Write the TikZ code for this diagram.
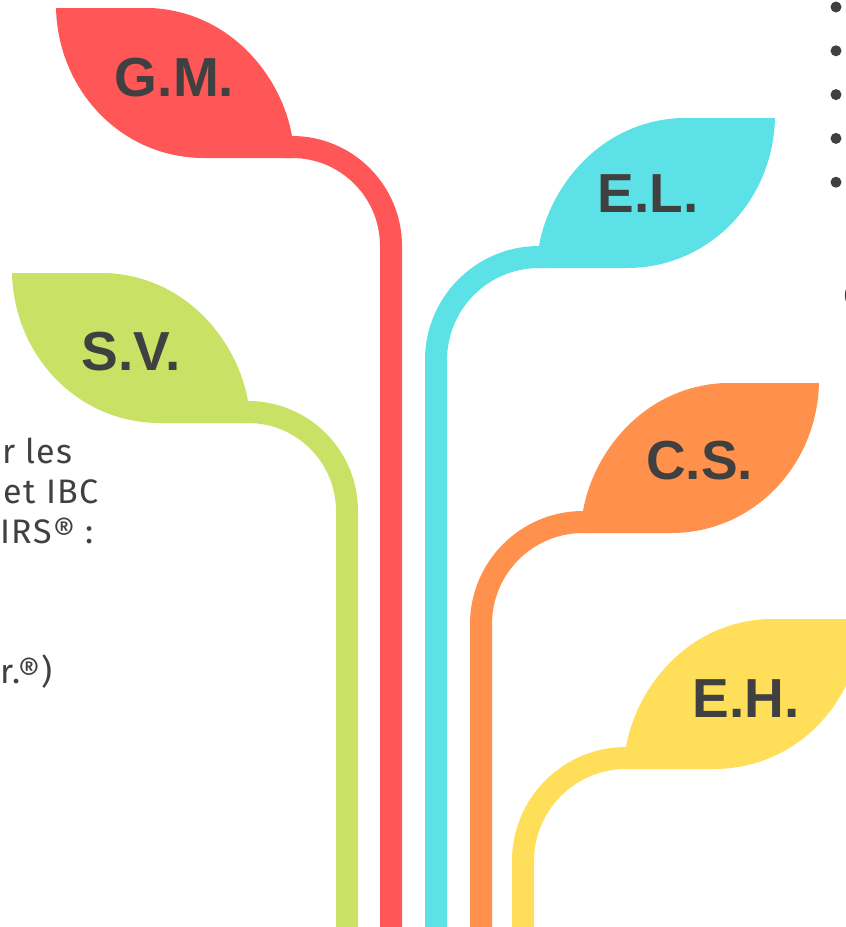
\documentclass[tikz,border=0pt]{standalone}
\usepackage{fontspec}
\setmainfont{Liberation Sans}
\newfontfamily\bodyfont[LetterSpace=4]{Fira Sans}
\definecolor{leafred}{HTML}{FF5757}
\definecolor{leafcyan}{HTML}{5CE1E6}
\definecolor{leaforange}{HTML}{FF914D}
\definecolor{leafyellow}{HTML}{FFDE59}
\definecolor{leafgreen}{HTML}{C9E265}
\definecolor{ink}{HTML}{404040}
\newcommand\regmark{®}
\begin{document}
\begin{tikzpicture}[x=1pt,y=-1pt,
  stemline/.style={line width=22pt, line cap=butt},
  leaflabel/.style={font=\fontsize{55}{55}\selectfont\bfseries, text=ink, inner sep=0pt, anchor=base},
  sidetext/.style={font=\bodyfont\fontsize{34}{40}\selectfont, text=ink, inner sep=0pt, anchor=base east},
  leafR/.pic={\path[pic actions] (0,-22) .. controls (10,-80) and (60,-146) .. (141,-150) -- (236,-150) .. controls (234,-67) and (170,0) .. (88,0) -- (0,0) -- cycle;},
  leafL/.pic={\path[pic actions] (0,-22) .. controls (-10,-80) and (-60,-146) .. (-141,-150) -- (-236,-150) .. controls (-234,-67) and (-170,0) .. (-88,0) -- (0,0) -- cycle;}
]
\useasboundingbox (0,0) rectangle (846,927);
\fill[white] (0,0) rectangle (846,927);
\clip (0,0) rectangle (846,927);

% stems
\draw[stemline, leafgreen] (240,412) -- (248,412) .. controls (302.7,412) and (347,456.3) .. (347,511) -- (347,940);
\draw[stemline, leafred] (284,147) -- (292,147) .. controls (346.7,147) and (391,191.3) .. (391,246) -- (391,940);
\draw[stemline, leafcyan] (547,257) -- (539,257) .. controls (482.1,257) and (436,303.1) .. (436,360) -- (436,940);
\draw[stemline, leaforange] (591,522) -- (583,522) .. controls (526.7,522) and (481,567.7) .. (481,624) -- (481,940);
\draw[stemline, leafyellow] (634,758) -- (626,758) .. controls (569.1,758) and (523,804.1) .. (523,861) -- (523,940);

% leaves
\pic[fill=leafred] at (292,158) {leafL};
\pic[fill=leafgreen] at (248,423) {leafL};
\pic[fill=leafcyan] at (539,268) {leafR};
\pic[fill=leaforange] at (583,533) {leafR};
\pic[fill=leafyellow] at (626,769) {leafR};

% labels
\node[leaflabel] (gm) at (174.5,96) {G.M.};
\node[leaflabel] (sv) at (131,370) {S.V.};
\node[leaflabel] (el) at (648,212) {E.L.};
\node[leaflabel] (cs) at (699.5,479) {C.S.};
\node[leaflabel] (eh) at (746,717) {E.H.};

% left text fragments
\node[sidetext] (t1) at (73,463) {r les};
\node[sidetext] (t2) at (99,503) {et IBC};
\node[sidetext] (t3) at (94,543) {IRS\regmark\ :};
\node[sidetext] (t4) at (53,683) {r.\regmark)};

% right bullets and fragment
\foreach \k in {0,...,4} \fill[ink] (836,{7+43.8*\k}) circle (5.5pt);
\node[anchor=base west, font=\bodyfont\fontsize{34}{40}\selectfont, text=ink, inner sep=0pt] (c1) at (843.5,307) {C};
\end{tikzpicture}
\end{document}
